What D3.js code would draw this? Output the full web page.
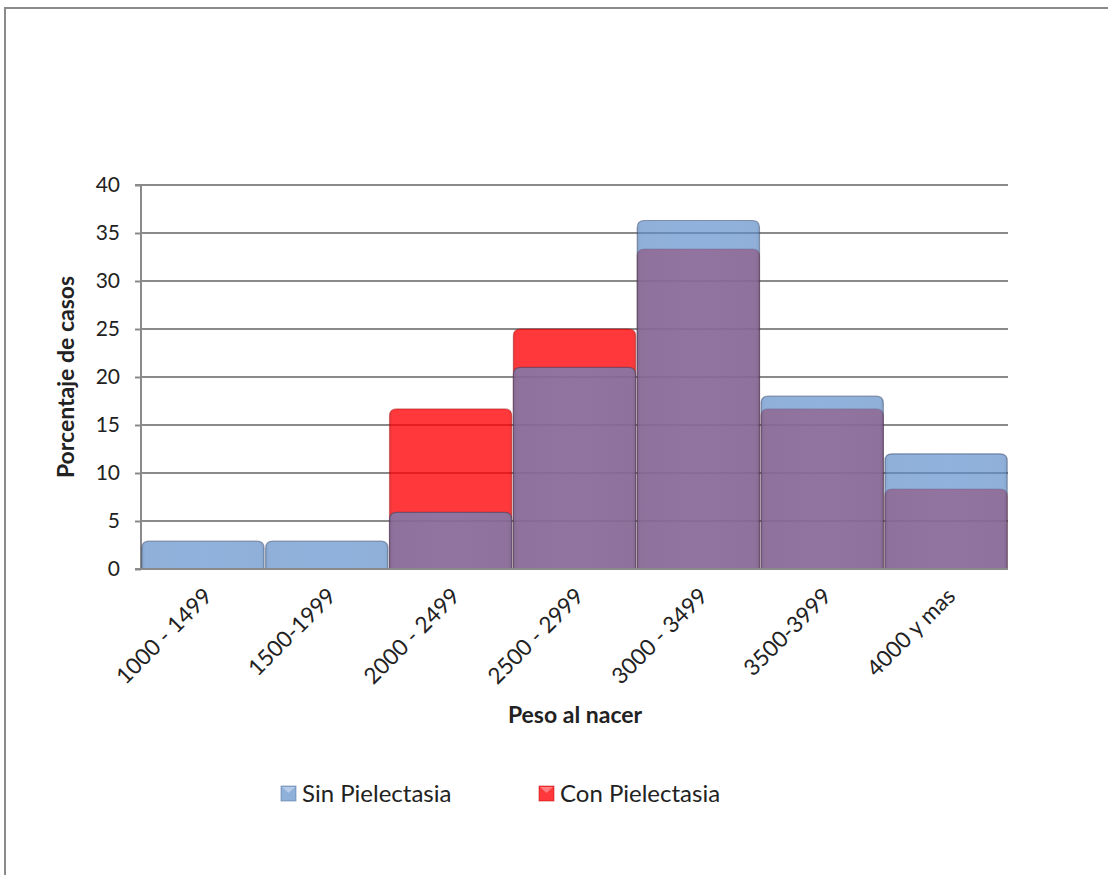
<!DOCTYPE html>
<html>
<head>
<meta charset="utf-8">
<script src="https://cdn.jsdelivr.net/npm/d3@7"></script>
<style>
  html, body { margin: 0; padding: 0; background: #fff; }
  svg { display: block; }
  text { font-family: Lato, "Open Sans", "Liberation Sans", sans-serif; fill: #222; }
</style>
</head>
<body>
<svg id="chart" width="1108" height="875"></svg>
<script>
// Birth-weight classes
const categories = ["1000 - 1499", "1500-1999", "2000 - 2499", "2500 - 2999", "3000 - 3499", "3500-3999", "4000 y mas"];
// Percentage of cases per class
const sinPielectasia = [2.9, 2.9, 5.9, 21.0, 36.3, 18.0, 12.0];
const conPielectasia = [0, 0, 16.67, 25.0, 33.33, 16.67, 8.33];
const seriesNames = ["Sin Pielectasia", "Con Pielectasia"];
const yTicks = [0, 5, 10, 15, 20, 25, 30, 35, 40];

const svg = d3.select("#chart");
const W = 1108, H = 875;
const plot = { left: 141, right: 1008, top: 185, bottom: 569 };

// Outer frame (top and left edges)
svg.append("path")
  .attr("d", `M5,${H} V8 H${W}`)
  .attr("fill", "none").attr("stroke", "#8a8a8a").attr("stroke-width", 2);

const x = d3.scaleBand().domain(categories).range([plot.left, plot.right]).padding(0);
const y = d3.scaleLinear().domain([0, 40]).range([plot.bottom, plot.top]);

// Gradients giving the bars a soft sheen
const defs = svg.append("defs");
function sheen(id, c) {
  const g = defs.append("linearGradient").attr("id", id).attr("x1", 0).attr("x2", 1).attr("y1", 0).attr("y2", 0);
  const base = d3.rgb(c);
  g.append("stop").attr("offset", "0%").attr("stop-color", base.darker(0.3));
  g.append("stop").attr("offset", "3%").attr("stop-color", base);
  g.append("stop").attr("offset", "50%").attr("stop-color", base.brighter(0.06));
  g.append("stop").attr("offset", "97%").attr("stop-color", base);
  g.append("stop").attr("offset", "100%").attr("stop-color", base.darker(0.3));
}
sheen("gradRed", "rgb(255,0,4)");
sheen("gradBlue", "rgb(93,140,200)");

// Horizontal gridlines
svg.append("g").selectAll("line").data(yTicks.filter(d => d > 0)).join("line")
  .attr("x1", plot.left).attr("x2", plot.right)
  .attr("y1", d => y(d)).attr("y2", d => y(d))
  .attr("stroke", "#8a8a8a").attr("stroke-width", 2);

// Y axis with outward ticks
const yAxis = d3.axisLeft(y).tickValues(yTicks).tickSize(6).tickPadding(15).tickFormat(d3.format("d"));
const gy = svg.append("g").attr("transform", `translate(${plot.left},0)`).call(yAxis);
gy.select(".domain").attr("stroke", "#8a8a8a").attr("stroke-width", 2).attr("d", `M-6,${plot.bottom}H0V${plot.top}H-6`);
gy.selectAll(".tick line").attr("stroke", "#8a8a8a").attr("stroke-width", 2);
gy.selectAll(".tick text").style("font-size", "21px").attr("fill", "#222")
  .style("font-family", "Lato, 'Open Sans', sans-serif");

// Bar outline with rounded top corners
function barPath(i, v) {
  const x0 = x(categories[i]) + 0.8, x1 = x(categories[i]) + x.bandwidth() - 0.8;
  const y0 = y(0), yt = y(v);
  const r = Math.min(7, (y0 - yt));
  if (v <= 0) return "";
  return `M${x0},${y0}V${yt + r}Q${x0},${yt} ${x0 + r},${yt}H${x1 - r}Q${x1},${yt} ${x1},${yt + r}V${y0}Z`;
}

svg.append("g").selectAll("path").data(conPielectasia).join("path")
  .attr("d", (d, i) => barPath(i, d))
  .attr("fill", "url(#gradRed)").attr("fill-opacity", 0.78)
  .attr("stroke", "rgb(150,0,0)").attr("stroke-opacity", 0.4).attr("stroke-width", 1.2);

svg.append("g").selectAll("path").data(sinPielectasia).join("path")
  .attr("d", (d, i) => barPath(i, d))
  .attr("fill", "url(#gradBlue)").attr("fill-opacity", 0.69)
  .attr("stroke", "rgb(40,55,90)").attr("stroke-opacity", 0.45).attr("stroke-width", 1.2);

// X axis baseline
svg.append("line").attr("x1", plot.left - 6).attr("x2", plot.right)
  .attr("y1", plot.bottom).attr("y2", plot.bottom)
  .attr("stroke", "#8a8a8a").attr("stroke-width", 2);

// Category labels, rotated
svg.append("g").selectAll("text").data(categories).join("text")
  .attr("transform", d => `translate(${x(d) + x.bandwidth() / 2 + 5},${plot.bottom + 23}) rotate(-45)`)
  .attr("text-anchor", "end")
  .attr("dy", "0.35em")
  .style("font-size", "22.5px")
  .text(d => d);

// Axis titles
svg.append("text")
  .attr("transform", `translate(74,${(plot.top + plot.bottom) / 2}) rotate(-90)`)
  .attr("text-anchor", "middle")
  .style("font-size", "23px").style("font-weight", "bold")
  .text("Porcentaje de casos");

svg.append("text")
  .attr("x", 575).attr("y", 723)
  .attr("text-anchor", "middle")
  .style("font-size", "23px").style("font-weight", "bold")
  .text("Peso al nacer");

// Legend
const legendItems = [
  { name: seriesNames[0], color: "rgb(93,140,200)", op: 0.69, x: 281 },
  { name: seriesNames[1], color: "rgb(255,0,4)", op: 0.78, x: 539 }
];
const lg = svg.append("g").selectAll("g").data(legendItems).join("g")
  .attr("transform", d => `translate(${d.x},786)`);
lg.append("rect").attr("width", 15).attr("height", 15)
  .attr("fill", d => d.color).attr("fill-opacity", d => d.op)
  .attr("stroke", d => d3.rgb(d.color).darker(0.8)).attr("stroke-opacity", 0.5);
lg.append("path").attr("d", "M1,1 L7.5,7 L14,1 Z").attr("fill", "#fff").attr("fill-opacity", 0.35);
lg.append("text").attr("x", 21).attr("y", 16)
  .style("font-size", "24px")
  .text(d => d.name);
</script>
</body>
</html>
